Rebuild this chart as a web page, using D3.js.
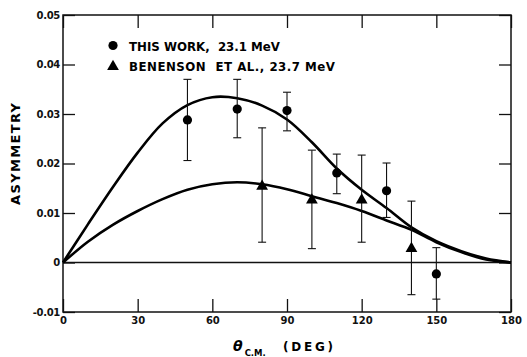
<!DOCTYPE html>
<html>
<head>
<meta charset="utf-8">
<script src="https://cdn.jsdelivr.net/npm/d3@7"></script>
<style>
  body { margin: 0; background: #fff; }
  svg { display: block; }
</style>
</head>
<body>
<div id="chart"></div>
<script>
// data
const thisWorkAngle = [50, 70, 90, 110, 130, 150];
const thisWorkValue = [0.0288, 0.0310, 0.0307, 0.0181, 0.0145, -0.0023];
const thisWorkHigh  = [0.0370, 0.0370, 0.0344, 0.0219, 0.0201, 0.0030];
const thisWorkLow   = [0.0206, 0.0252, 0.0266, 0.0139, 0.0091, -0.0074];

const benensonAngle = [80, 100, 120, 140];
const benensonValue = [0.0156, 0.0128, 0.0128, 0.0030];
const benensonHigh  = [0.0272, 0.0227, 0.0217, 0.0124];
const benensonLow   = [0.0041, 0.0028, 0.0041, -0.0065];

const curveAngle = [0, 10, 20, 30, 40, 50, 60, 70, 80, 90, 100, 110, 120, 130, 140, 150, 160, 170, 180];
const upperCurve = [0, 0.0077, 0.0152, 0.0222, 0.0281, 0.0318, 0.0334, 0.0332, 0.0317, 0.0289, 0.0243, 0.0190, 0.0147, 0.0110, 0.0071, 0.0043, 0.0023, 0.0008, 0];
const lowerCurve = [0, 0.0042, 0.0076, 0.0104, 0.0128, 0.0147, 0.0158, 0.0162, 0.0158, 0.0148, 0.0134, 0.0120, 0.0104, 0.0085, 0.0066, 0.0041, 0.0021, 0.0006, 0];

const xTicks = [0, 30, 60, 90, 120, 150, 180];
const yTicks = [-0.01, 0, 0.01, 0.02, 0.03, 0.04, 0.05];
const yTickLabels = ["-0.01", "0", "0.01", "0.02", "0.03", "0.04", "0.05"];

const width = 527;
const height = 357;
const margin = ({ top: 15, right: 16, bottom: 45, left: 63 });
const tickLen = 12;
const font = "'DejaVu Sans', sans-serif";

const svg = d3.select("#chart")
  .append("svg")
  .attr("width", width)
  .attr("height", height)
  .attr("font-family", font)
  .attr("font-weight", "bold");

// Scales
const x = d3.scaleLinear()
  .domain([0, 180])
  .range([margin.left, width - margin.right]);

const y = d3.scaleLinear()
  .domain([-0.01, 0.05])
  .range([height - margin.bottom, margin.top]);

// Axes (inward ticks on all four sides)
const axisStyle = g => g
  .call(g => g.select(".domain").remove())
  .call(g => g.selectAll(".tick line").attr("stroke", "#111").attr("stroke-width", 1.3));

svg.append("g")
  .attr("transform", `translate(${margin.left},0)`)
  .call(d3.axisLeft(y).tickValues(yTicks).tickSize(-tickLen).tickPadding(3)
    .tickFormat((d, i) => yTickLabels[i]))
  .call(axisStyle)
  .call(g => g.selectAll(".tick text")
    .attr("font-family", font)
    .attr("font-weight", "bold")
    .attr("font-size", 10)
    .attr("letter-spacing", -0.3)
    .attr("fill", "#111"));

svg.append("g")
  .attr("transform", `translate(${width - margin.right},0)`)
  .call(d3.axisRight(y).tickValues(yTicks).tickSize(-tickLen).tickFormat(""))
  .call(axisStyle);

svg.append("g")
  .attr("transform", `translate(0,${height - margin.bottom})`)
  .call(d3.axisBottom(x).tickValues(xTicks).tickSize(-13).tickPadding(5))
  .call(axisStyle)
  .call(g => g.selectAll(".tick text")
    .attr("font-family", font)
    .attr("font-weight", "bold")
    .attr("font-size", 10)
    .attr("fill", "#111"));

svg.append("g")
  .attr("transform", `translate(0,${margin.top})`)
  .call(d3.axisTop(x).tickValues(xTicks).tickSize(-13).tickFormat(""))
  .call(axisStyle);

// Frame and zero line
svg.append("rect")
  .attr("x", x(0))
  .attr("y", y(0.05))
  .attr("width", x(180) - x(0))
  .attr("height", y(-0.01) - y(0.05))
  .attr("fill", "none")
  .attr("stroke", "#111")
  .attr("stroke-width", 1.5);

svg.append("line")
  .attr("x1", x(0)).attr("x2", x(180))
  .attr("y1", y(0)).attr("y2", y(0))
  .attr("stroke", "#111")
  .attr("stroke-width", 1.3);

// Curves
const line = d3.line()
  .x((d, i) => x(curveAngle[i]))
  .y(d => y(d))
  .curve(d3.curveCatmullRom.alpha(0.5));

svg.append("g")
  .attr("fill", "none")
  .attr("stroke", "#000")
  .attr("stroke-width", 2.6)
  .attr("stroke-linejoin", "round")
  .selectAll("path")
  .data([upperCurve, lowerCurve])
  .join("path")
  .attr("d", d => line(d));

// Error bars
const capHalf = 4;
function errorBars(angles, lows, highs) {
  const g = svg.append("g")
    .attr("stroke", "#111")
    .attr("stroke-width", 1.1);
  angles.forEach((a, i) => {
    const cx = x(a);
    g.append("line").attr("x1", cx).attr("x2", cx).attr("y1", y(lows[i])).attr("y2", y(highs[i]));
    g.append("line").attr("x1", cx - capHalf).attr("x2", cx + capHalf).attr("y1", y(lows[i])).attr("y2", y(lows[i]));
    g.append("line").attr("x1", cx - capHalf).attr("x2", cx + capHalf).attr("y1", y(highs[i])).attr("y2", y(highs[i]));
  });
}
errorBars(thisWorkAngle, thisWorkLow, thisWorkHigh);
errorBars(benensonAngle, benensonLow, benensonHigh);

// Markers
svg.append("g")
  .selectAll("circle")
  .data(thisWorkValue)
  .join("circle")
  .attr("cx", (d, i) => x(thisWorkAngle[i]))
  .attr("cy", d => y(d))
  .attr("r", 4.6)
  .attr("fill", "#000");

const tri = d3.symbol().type(d3.symbolTriangle).size(60);
svg.append("g")
  .selectAll("path")
  .data(benensonValue)
  .join("path")
  .attr("transform", (d, i) => `translate(${x(benensonAngle[i])},${y(d) + 1})`)
  .attr("d", tri)
  .attr("fill", "#000");

// Legend
const legend = svg.append("g").attr("font-size", 11.8);
legend.append("circle").attr("cx", 113).attr("cy", 45.5).attr("r", 4.6).attr("fill", "#000");
legend.append("path").attr("transform", "translate(113,66.5)").attr("d", tri).attr("fill", "#000");
legend.append("text")
  .attr("x", 129).attr("y", 50.5)
  .attr("textLength", 151).attr("lengthAdjust", "spacing")
  .attr("xml:space", "preserve")
  .text("THIS WORK,  23.1 MeV");
legend.append("text")
  .attr("x", 129).attr("y", 70.5)
  .attr("textLength", 206).attr("lengthAdjust", "spacing")
  .attr("xml:space", "preserve")
  .text("BENENSON  ET AL., 23.7 MeV");

// Axis titles
svg.append("text")
  .attr("transform", "translate(19.5,154) rotate(-90)")
  .attr("text-anchor", "middle")
  .attr("textLength", 102).attr("lengthAdjust", "spacing")
  .attr("font-size", 13)
  .text("ASYMMETRY");

const xt = svg.append("text")
  .attr("x", 233).attr("y", 351)
  .attr("xml:space", "preserve");
xt.append("tspan").attr("font-style", "italic").attr("font-size", 14).text("θ");
xt.append("tspan").attr("font-size", 8.5).attr("dy", 5).attr("dx", 2).text("C.M.");
xt.append("tspan").attr("font-size", 12).attr("dy", -5).attr("x", 283)
  .attr("textLength", 50).attr("lengthAdjust", "spacing").text("(DEG)");
</script>
</body>
</html>
